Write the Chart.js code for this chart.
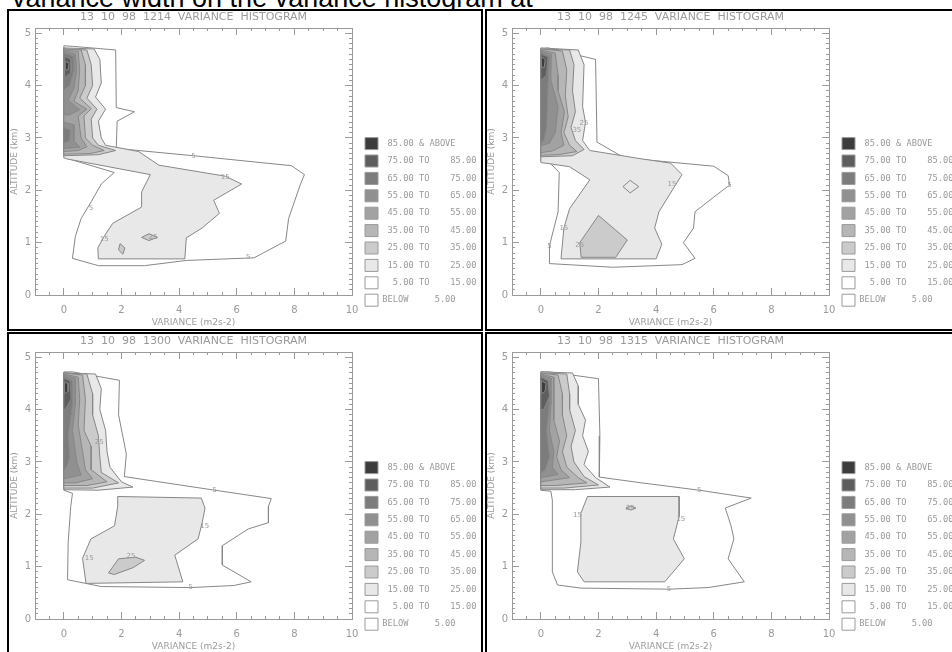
<!DOCTYPE html>
<html>
<head>
<meta charset="utf-8">
<title>Variance histograms</title>
<script src="https://cdn.jsdelivr.net/npm/chart.js@4.4.1/dist/chart.umd.min.js"></script>
<style>
  html, body { margin: 0; padding: 0; background: #fff; }
  body { position: relative; width: 952px; height: 652px; overflow: hidden; }
  #caption { position: absolute; left: 12px; top: -15px; font: 27px "Liberation Sans", Arial, sans-serif; line-height: 1; color: #000; white-space: nowrap; }
  .cell { position: absolute; overflow: hidden; border: 0 solid #000; background: #fff; }
  .cell canvas { position: absolute; filter: blur(0.4px); }
</style>
</head>
<body>
<div id="caption">variance width on the variance histogram at</div>

<div class="cell" style="left:7px;top:9px;width:472px;height:318px;border-width:2px">
  <canvas id="c1214" width="472" height="318" style="left:0;top:0"></canvas>
</div>
<div class="cell" style="left:485px;top:9px;width:470px;height:318px;border-width:2px 0 2px 2px">
  <canvas id="c1245" width="472" height="318" style="left:-1px;top:0"></canvas>
</div>
<div class="cell" style="left:7px;top:332px;width:472px;height:330px;border-width:2px 2px 0 2px">
  <canvas id="c1300" width="472" height="318" style="left:0;top:1px"></canvas>
</div>
<div class="cell" style="left:485px;top:332px;width:470px;height:330px;border-width:2px 0 0 2px">
  <canvas id="c1315" width="472" height="318" style="left:-1px;top:1px"></canvas>
</div>

<script>
const FONT = "'DejaVu Sans', sans-serif";
const MONO = "'DejaVu Sans Mono', monospace";
const INK = '#9a9a9a';   // frame, ticks and text
const LINE = '#878787';  // contour lines

// axes
const X_RANGE = [-1, 10];
const Y_RANGE = [0, 5.1];
const X_MAJOR = [0, 2, 4, 6, 8, 10];
const Y_MAJOR = [0, 1, 2, 3, 4, 5];
const X_MINOR_STEP = 0.5;
const Y_MINOR_STEP = 0.1;

// contour levels and their shading
const LEVELS = [5, 15, 25, 35, 45, 55, 65, 75, 85];
const LEVEL_FILL = ['#ffffff', '#e8e8e8', '#cbcbcb', '#b6b6b6', '#a2a2a2', '#909090', '#7c7c7c', '#5e5e5e', '#3c3c3c'];

// legend, top to bottom
const LEGEND_TEXT = [
  ' 85.00 & ABOVE',
  ' 75.00 TO    85.00',
  ' 65.00 TO    75.00',
  ' 55.00 TO    65.00',
  ' 45.00 TO    55.00',
  ' 35.00 TO    45.00',
  ' 25.00 TO    35.00',
  ' 15.00 TO    25.00',
  '  5.00 TO    15.00',
  'BELOW     5.00'
];
const LEGEND_FILL = ['#3c3c3c', '#5e5e5e', '#7c7c7c', '#909090', '#a2a2a2', '#b6b6b6', '#cbcbcb', '#e8e8e8', '#ffffff', '#ffffff'];

// ---- 13 10 98 1214 : contour rings [variance, altitude] ----
const p1214_c5 = [[0,4.76],[0.3,4.75],[1.8,4.68],[1.82,3.58],[2.45,3.5],[1.85,3.32],[1.82,2.8],[4.5,2.66],[7.9,2.47],[8.35,2.3],[8.2,2.1],[7.8,1.46],[7.7,1.03],[6.6,0.71],[4.25,0.66],[2.8,0.56],[1.2,0.56],[0.3,0.7],[0.4,1.12],[0.6,1.46],[0.95,1.78],[1.3,2.12],[1.75,2.34],[0.05,2.62],[0,2.64]];
const p1214_c15 = [[0,4.72],[1.05,4.7],[1.25,4.5],[1.3,4.05],[1.1,3.78],[1.45,3.55],[1.2,3.32],[1.3,3.0],[1.45,2.86],[2.6,2.74],[3.3,2.48],[5.6,2.27],[6.17,2.12],[5.2,1.81],[5.4,1.56],[4.8,1.28],[4.25,1.09],[4.2,0.69],[1.2,0.69],[1.18,0.9],[1.4,1.12],[1.7,1.37],[2.7,1.68],[2.7,1.97],[3.0,2.3],[0.1,2.6],[0,2.62]];
const p1214_c25a = [[0,4.7],[0.8,4.68],[0.95,4.4],[1.0,4.0],[0.8,3.76],[1.15,3.55],[0.95,3.36],[1.0,3.0],[1.2,2.86],[1.8,2.76],[1.2,2.68],[0,2.66]];
const p1214_c25b = [[2.7,1.1],[2.95,1.17],[3.25,1.1],[2.95,1.04]];
const p1214_c25c = [[1.95,0.98],[2.12,0.9],[2.05,0.78],[1.9,0.86]];
const p1214_c35 = [[0,4.7],[0.6,4.68],[0.75,4.4],[0.75,4.0],[0.55,3.76],[0.95,3.56],[0.7,3.42],[0.75,3.0],[1.0,2.86],[1.4,2.76],[0.9,2.7],[0,2.69]];
const p1214_c45 = [[0,4.68],[0.5,4.65],[0.55,4.3],[0.5,3.9],[0.35,3.7],[0.8,3.55],[0.5,3.42],[0.6,3.0],[0.8,2.83],[0.5,2.76],[0,2.74]];
const p1214_c55a = [[0,4.66],[0.4,4.6],[0.45,4.3],[0.35,3.95],[0.15,3.72],[0.55,3.54],[0.2,3.44],[0,3.44]];
const p1214_c55b = [[0,3.3],[0.35,3.25],[0.35,2.95],[0.55,2.82],[0,2.8]];
const p1214_c65a = [[0,4.62],[0.32,4.56],[0.35,4.3],[0.2,4.0],[0,3.92]];
const p1214_c65b = [[0,3.2],[0.22,3.15],[0.2,2.95],[0,2.9]];
const p1214_c75 = [[0.03,4.56],[0.26,4.5],[0.25,4.25],[0.03,4.15]];
const p1214_c85 = [[0.05,4.46],[0.18,4.43],[0.15,4.3],[0.05,4.3]];
const p1214_labels = [[4.5,2.66,'5'],[5.6,2.25,'15'],[0.94,1.65,'5'],[1.4,1.07,'15'],[6.4,0.72,'5'],[3.1,1.1,'25']];

// ---- 13 10 98 1245 ----
const p1245_c5 = [[0,4.7],[0.25,4.72],[1.9,4.5],[1.95,2.92],[2.9,2.62],[6.0,2.46],[6.5,2.28],[6.55,2.1],[6.0,1.87],[5.35,1.59],[5.3,1.28],[4.95,1.0],[5.35,0.7],[4.9,0.58],[2.5,0.53],[0.3,0.6],[0.3,0.94],[0.6,1.59],[0.64,2.34],[0.3,2.53],[0,2.56]];
const p1245_c15a = [[0,4.72],[1.3,4.68],[1.5,4.4],[1.45,3.6],[1.55,3.3],[1.45,2.95],[1.7,2.76],[3.5,2.6],[4.5,2.52],[4.9,2.3],[4.65,2.08],[4.1,1.59],[3.95,1.28],[4.2,0.97],[4.0,0.69],[0.7,0.69],[0.8,1.28],[1.0,1.65],[1.7,2.2],[1.0,2.45],[0.4,2.5],[0,2.53]];
const p1245_c15b = [[2.85,2.07],[3.1,2.19],[3.4,2.07],[3.1,1.95]];
const p1245_c25a = [[0,4.7],[1.0,4.68],[1.15,4.4],[1.1,3.9],[1.2,3.5],[1.05,3.2],[1.2,2.95],[1.5,2.78],[1.1,2.66],[0,2.64]];
const p1245_c25b = [[2.0,1.52],[3.0,1.05],[2.6,0.72],[1.4,0.72],[1.35,1.0],[1.6,1.2]];
const p1245_c35 = [[0,4.7],[0.75,4.66],[0.9,4.3],[0.85,3.8],[0.95,3.4],[0.8,3.1],[1.0,2.86],[1.25,2.74],[0.6,2.68],[0,2.67]];
const p1245_c45 = [[0,4.68],[0.5,4.62],[0.6,4.2],[0.6,3.9],[0.82,3.5],[0.7,3.1],[0.8,2.86],[0.4,2.75],[0,2.72]];
const p1245_c55 = [[0,4.66],[0.36,4.6],[0.35,4.1],[0.6,3.6],[0.5,3.1],[0.3,2.9],[0,2.85]];
const p1245_c65 = [[0,4.64],[0.3,4.55],[0.25,4.0],[0.2,3.2],[0.1,2.95],[0,2.9]];
const p1245_c75 = [[0,4.6],[0.25,4.55],[0.2,4.2],[0,4.1]];
const p1245_c85 = [[0.02,4.55],[0.15,4.5],[0.12,4.35],[0.02,4.35]];
const p1245_labels = [[6.55,2.1,'5'],[4.55,2.12,'15'],[0.8,1.28,'15'],[0.3,0.94,'5'],[1.35,0.95,'25'],[1.5,3.28,'25'],[1.25,3.15,'35']];

// ---- 13 10 98 1300 ----
const p1300_c5 = [[0,4.72],[0.3,4.72],[1.93,4.56],[1.9,3.9],[2.17,3.15],[2.1,2.72],[5.24,2.46],[7.2,2.3],[7.1,2.15],[7.1,1.84],[6.4,1.72],[5.5,1.4],[5.5,1.03],[6.5,0.71],[5.9,0.64],[4.4,0.6],[1.3,0.62],[0.13,0.75],[0.15,1.46],[0.24,2.15],[0.3,2.4],[0,2.46]];
const p1300_c15a = [[0,4.7],[1.1,4.68],[1.3,4.4],[1.25,4.0],[1.45,3.6],[1.5,3.2],[1.6,2.9],[2.0,2.62],[2.4,2.52],[1.2,2.46],[0,2.47]];
const p1300_c15b = [[1.87,2.34],[4.77,2.31],[4.9,2.12],[4.8,1.84],[4.66,1.53],[3.85,1.22],[4.13,0.71],[0.77,0.68],[0.65,1.16],[0.94,1.53],[1.76,1.78],[1.87,2.15]];
const p1300_c25a = [[0,4.7],[0.8,4.68],[1.0,4.3],[1.0,3.9],[1.2,3.5],[1.25,3.1],[1.3,2.8],[1.9,2.6],[1.0,2.5],[0,2.5]];
const p1300_c25b = [[1.55,0.88],[1.9,1.15],[2.5,1.18],[2.8,1.12],[2.4,0.98],[1.75,0.85]];
const p1300_c35 = [[0,4.7],[0.65,4.66],[0.75,4.2],[0.7,3.6],[0.95,3.3],[0.95,2.85],[1.5,2.62],[0.8,2.55],[0,2.55]];
const p1300_c45 = [[0,4.68],[0.5,4.62],[0.55,4.2],[0.5,3.7],[0.65,3.2],[0.75,2.85],[1.0,2.68],[0.4,2.6],[0,2.6]];
const p1300_c55 = [[0,4.66],[0.4,4.6],[0.4,4.1],[0.3,3.6],[0.45,3.0],[0.6,2.75],[0,2.68]];
const p1300_c65 = [[0,4.64],[0.3,4.55],[0.3,4.1],[0.15,3.5],[0.2,3.1],[0.1,2.9],[0,2.85]];
const p1300_c75 = [[0,4.6],[0.22,4.55],[0.25,4.2],[0.05,4.0],[0,4.0]];
const p1300_c85 = [[0.02,4.52],[0.15,4.5],[0.15,4.35],[0.02,4.3]];
const p1300_labels = [[5.24,2.46,'5'],[4.89,1.78,'15'],[0.88,1.16,'15'],[4.4,0.6,'5'],[2.33,1.2,'25'],[1.23,3.37,'25']];

// ---- 13 10 98 1315 ----
const p1315_c5 = [[0,4.72],[0.3,4.72],[2.0,4.59],[2.05,3.5],[2.03,2.71],[3.5,2.6],[5.5,2.46],[7.3,2.31],[6.4,2.12],[6.6,1.78],[6.7,1.53],[6.5,1.15],[7.06,0.71],[5.8,0.6],[4.45,0.57],[1.39,0.59],[0.58,0.65],[0.4,0.9],[0.4,1.65],[0.4,2.27],[0.35,2.44],[0,2.46]];
const p1315_c15a = [[0,4.72],[1.1,4.7],[1.3,4.45],[1.3,4.1],[1.55,3.8],[1.45,3.5],[1.65,3.2],[1.5,2.95],[1.9,2.7],[2.4,2.52],[1.2,2.47],[0,2.47]];
const p1315_c15b = [[1.62,2.34],[4.8,2.34],[4.8,1.96],[4.6,1.53],[4.98,1.15],[4.3,0.71],[1.5,0.71],[1.27,0.9],[1.39,1.47],[1.39,2.02]];
const p1315_c25a = [[0,4.7],[0.9,4.68],[1.0,4.3],[1.0,4.0],[1.2,3.6],[1.05,3.3],[1.15,3.0],[1.5,2.72],[2.0,2.56],[0.8,2.5],[0,2.5]];
const p1315_c25b = [[2.95,2.12],[3.12,2.16],[3.3,2.12],[3.12,2.08]];
const p1315_c35 = [[0,4.7],[0.6,4.66],[0.75,4.3],[0.75,3.9],[0.9,3.5],[0.75,3.2],[0.9,2.9],[1.3,2.7],[1.6,2.6],[0.5,2.55],[0,2.55]];
const p1315_c45 = [[0,4.68],[0.45,4.62],[0.45,4.2],[0.45,3.8],[0.65,3.4],[0.55,3.1],[0.7,2.85],[1.0,2.7],[0,2.62]];
const p1315_c55 = [[0,4.66],[0.35,4.6],[0.35,4.1],[0.3,3.6],[0.45,3.2],[0.4,2.9],[0.6,2.76],[0,2.7]];
const p1315_c65 = [[0,4.64],[0.28,4.55],[0.3,4.1],[0.2,3.6],[0.3,3.1],[0.15,2.85],[0,2.8]];
const p1315_c75 = [[0,4.62],[0.25,4.55],[0.3,4.25],[0.1,4.0],[0,4.0]];
const p1315_c85 = [[0.02,4.55],[0.18,4.5],[0.15,4.35],[0.02,4.3]];
const p1315_labels = [[5.5,2.46,'5'],[4.86,1.9,'15'],[1.27,1.99,'15'],[4.45,0.57,'5'],[3.1,2.12,'25']];

const PANELS = [
  {canvas: 'c1214', title: '13  10  98  1214  VARIANCE  HISTOGRAM', labels: p1214_labels, rings: {
    5: [p1214_c5], 15: [p1214_c15], 25: [p1214_c25a, p1214_c25b, p1214_c25c], 35: [p1214_c35],
    45: [p1214_c45], 55: [p1214_c55a, p1214_c55b], 65: [p1214_c65a, p1214_c65b], 75: [p1214_c75], 85: [p1214_c85]}},
  {canvas: 'c1245', title: '13  10  98  1245  VARIANCE  HISTOGRAM', labels: p1245_labels, rings: {
    5: [p1245_c5], 15: [p1245_c15a, p1245_c15b], 25: [p1245_c25a, p1245_c25b], 35: [p1245_c35],
    45: [p1245_c45], 55: [p1245_c55], 65: [p1245_c65], 75: [p1245_c75], 85: [p1245_c85]}},
  {canvas: 'c1300', title: '13  10  98  1300  VARIANCE  HISTOGRAM', labels: p1300_labels, rings: {
    5: [p1300_c5], 15: [p1300_c15a, p1300_c15b], 25: [p1300_c25a, p1300_c25b], 35: [p1300_c35],
    45: [p1300_c45], 55: [p1300_c55], 65: [p1300_c65], 75: [p1300_c75], 85: [p1300_c85]}},
  {canvas: 'c1315', title: '13  10  98  1315  VARIANCE  HISTOGRAM', labels: p1315_labels, rings: {
    5: [p1315_c5], 15: [p1315_c15a, p1315_c15b], 25: [p1315_c25a, p1315_c25b], 35: [p1315_c35],
    45: [p1315_c45], 55: [p1315_c55], 65: [p1315_c65], 75: [p1315_c75], 85: [p1315_c85]}}
];

Chart.defaults.font.family = FONT;
Chart.defaults.color = INK;

// small level numbers written on the contour lines
const contourLabels = {
  id: 'contourLabels',
  afterDatasetsDraw(chart, args, opts) {
    const {ctx, scales} = chart;
    ctx.save();
    ctx.font = "7px " + FONT;
    ctx.fillStyle = INK;
    ctx.textAlign = 'center';
    ctx.textBaseline = 'middle';
    (opts.items || []).forEach(([vx, vy, text]) => {
      ctx.fillText(text, scales.x.getPixelForValue(vx), scales.y.getPixelForValue(vy));
    });
    ctx.restore();
  }
};

function stepTicks(range, step) {
  const out = [];
  const n = Math.round((range[1] - range[0]) / step);
  for (let i = 0; i <= n; i++) out.push(+(range[0] + i * step).toFixed(3));
  return out;
}

/**
 * One side of the IDL style frame: inward ticks, major or minor.
 * size is the room the axis takes in the layout.
 */
function frameAxis(position, major, size) {
  const horiz = position === 'top' || position === 'bottom';
  const range = horiz ? X_RANGE : Y_RANGE;
  const values = major ? (horiz ? X_MAJOR : Y_MAJOR)
                       : stepTicks(range, horiz ? X_MINOR_STEP : Y_MINOR_STEP);
  return {
    type: 'linear',
    position: position,
    min: range[0],
    max: range[1],
    weight: major ? 1 : 0,
    afterBuildTicks: s => { s.ticks = values.map(value => ({value})); },
    afterFit: s => { if (horiz) s.height = size; else s.width = size; },
    grid: {drawOnChartArea: false, drawTicks: true, tickLength: major ? -7 : -3, color: INK, lineWidth: 1},
    border: {display: major, color: INK, width: 1},
    ticks: {display: false},
    title: {display: false}
  };
}

function panelDatasets(rings) {
  const sets = [];
  LEVELS.forEach((level, li) => {
    (rings[level] || []).forEach((ring, ri) => {
      sets.push({
        data: ring.concat([ring[0]]).map(([x, y]) => ({x, y})),
        xAxisID: 'x',
        yAxisID: 'y',
        showLine: true,
        fill: 'shape',
        backgroundColor: LEVEL_FILL[li],
        borderColor: LINE,
        borderWidth: 1,
        pointRadius: 0,
        tension: 0,
        order: -(li * 10 + ri)
      });
    });
  });
  return sets;
}

function legendItems() {
  const items = LEGEND_TEXT.map((text, i) => ({
    text: text,
    fillStyle: LEGEND_FILL[i],
    strokeStyle: '#9a9a9a',
    lineWidth: 1,
    fontColor: INK,
    hidden: false
  }));
  // empty slot under "BELOW" keeps the key clear of the axis title
  items.push({text: '', fillStyle: 'rgba(0,0,0,0)', strokeStyle: 'rgba(0,0,0,0)', lineWidth: 0, hidden: false});
  return items;
}

function makePanel(panel) {
  const x = frameAxis('bottom', true, 34);
  x.ticks = {display: true, autoSkip: false, maxRotation: 0, padding: 16, color: INK, font: {size: 10}};
  x.title = {display: true, text: 'VARIANCE (m2s-2)', color: INK, font: {size: 9}, padding: {top: 0, bottom: 0.6}};

  const y = frameAxis('left', true, 26);
  y.ticks = {display: true, autoSkip: false, padding: 11, color: INK, font: {size: 10}};
  y.title = {display: true, text: 'ALTITUDE (km)', color: INK, font: {size: 9}, padding: {top: 0.6, bottom: 0}};

  return new Chart(document.getElementById(panel.canvas), {
    type: 'scatter',
    data: {datasets: panelDatasets(panel.rings)},
    plugins: [contourLabels],
    options: {
      responsive: false,
      animation: false,
      events: [],
      layout: {padding: {left: 0, top: 0, right: 1.4, bottom: 0}},
      scales: {
        x: x,
        xMinor: frameAxis('bottom', false, 0),
        x2: frameAxis('top', true, 0),
        x2Minor: frameAxis('top', false, 0),
        y: y,
        yMinor: frameAxis('left', false, 0),
        y2: frameAxis('right', true, 7.6),
        y2Minor: frameAxis('right', false, 0)
      },
      plugins: {
        title: {
          display: true,
          text: panel.title,
          fullSize: false,
          color: INK,
          font: {size: 11, weight: 'normal', lineHeight: 1},
          padding: {top: -4, bottom: 5}
        },
        legend: {
          display: true,
          position: 'right',
          align: 'end',
          maxWidth: 120,
          labels: {
            boxWidth: 13,
            boxHeight: 12,
            padding: 5.4,
            color: INK,
            font: {family: MONO, size: 8.7},
            generateLabels: legendItems
          }
        },
        contourLabels: {items: panel.labels},
        tooltip: {enabled: false}
      }
    }
  });
}

PANELS.forEach(makePanel);
</script>
</body>
</html>
